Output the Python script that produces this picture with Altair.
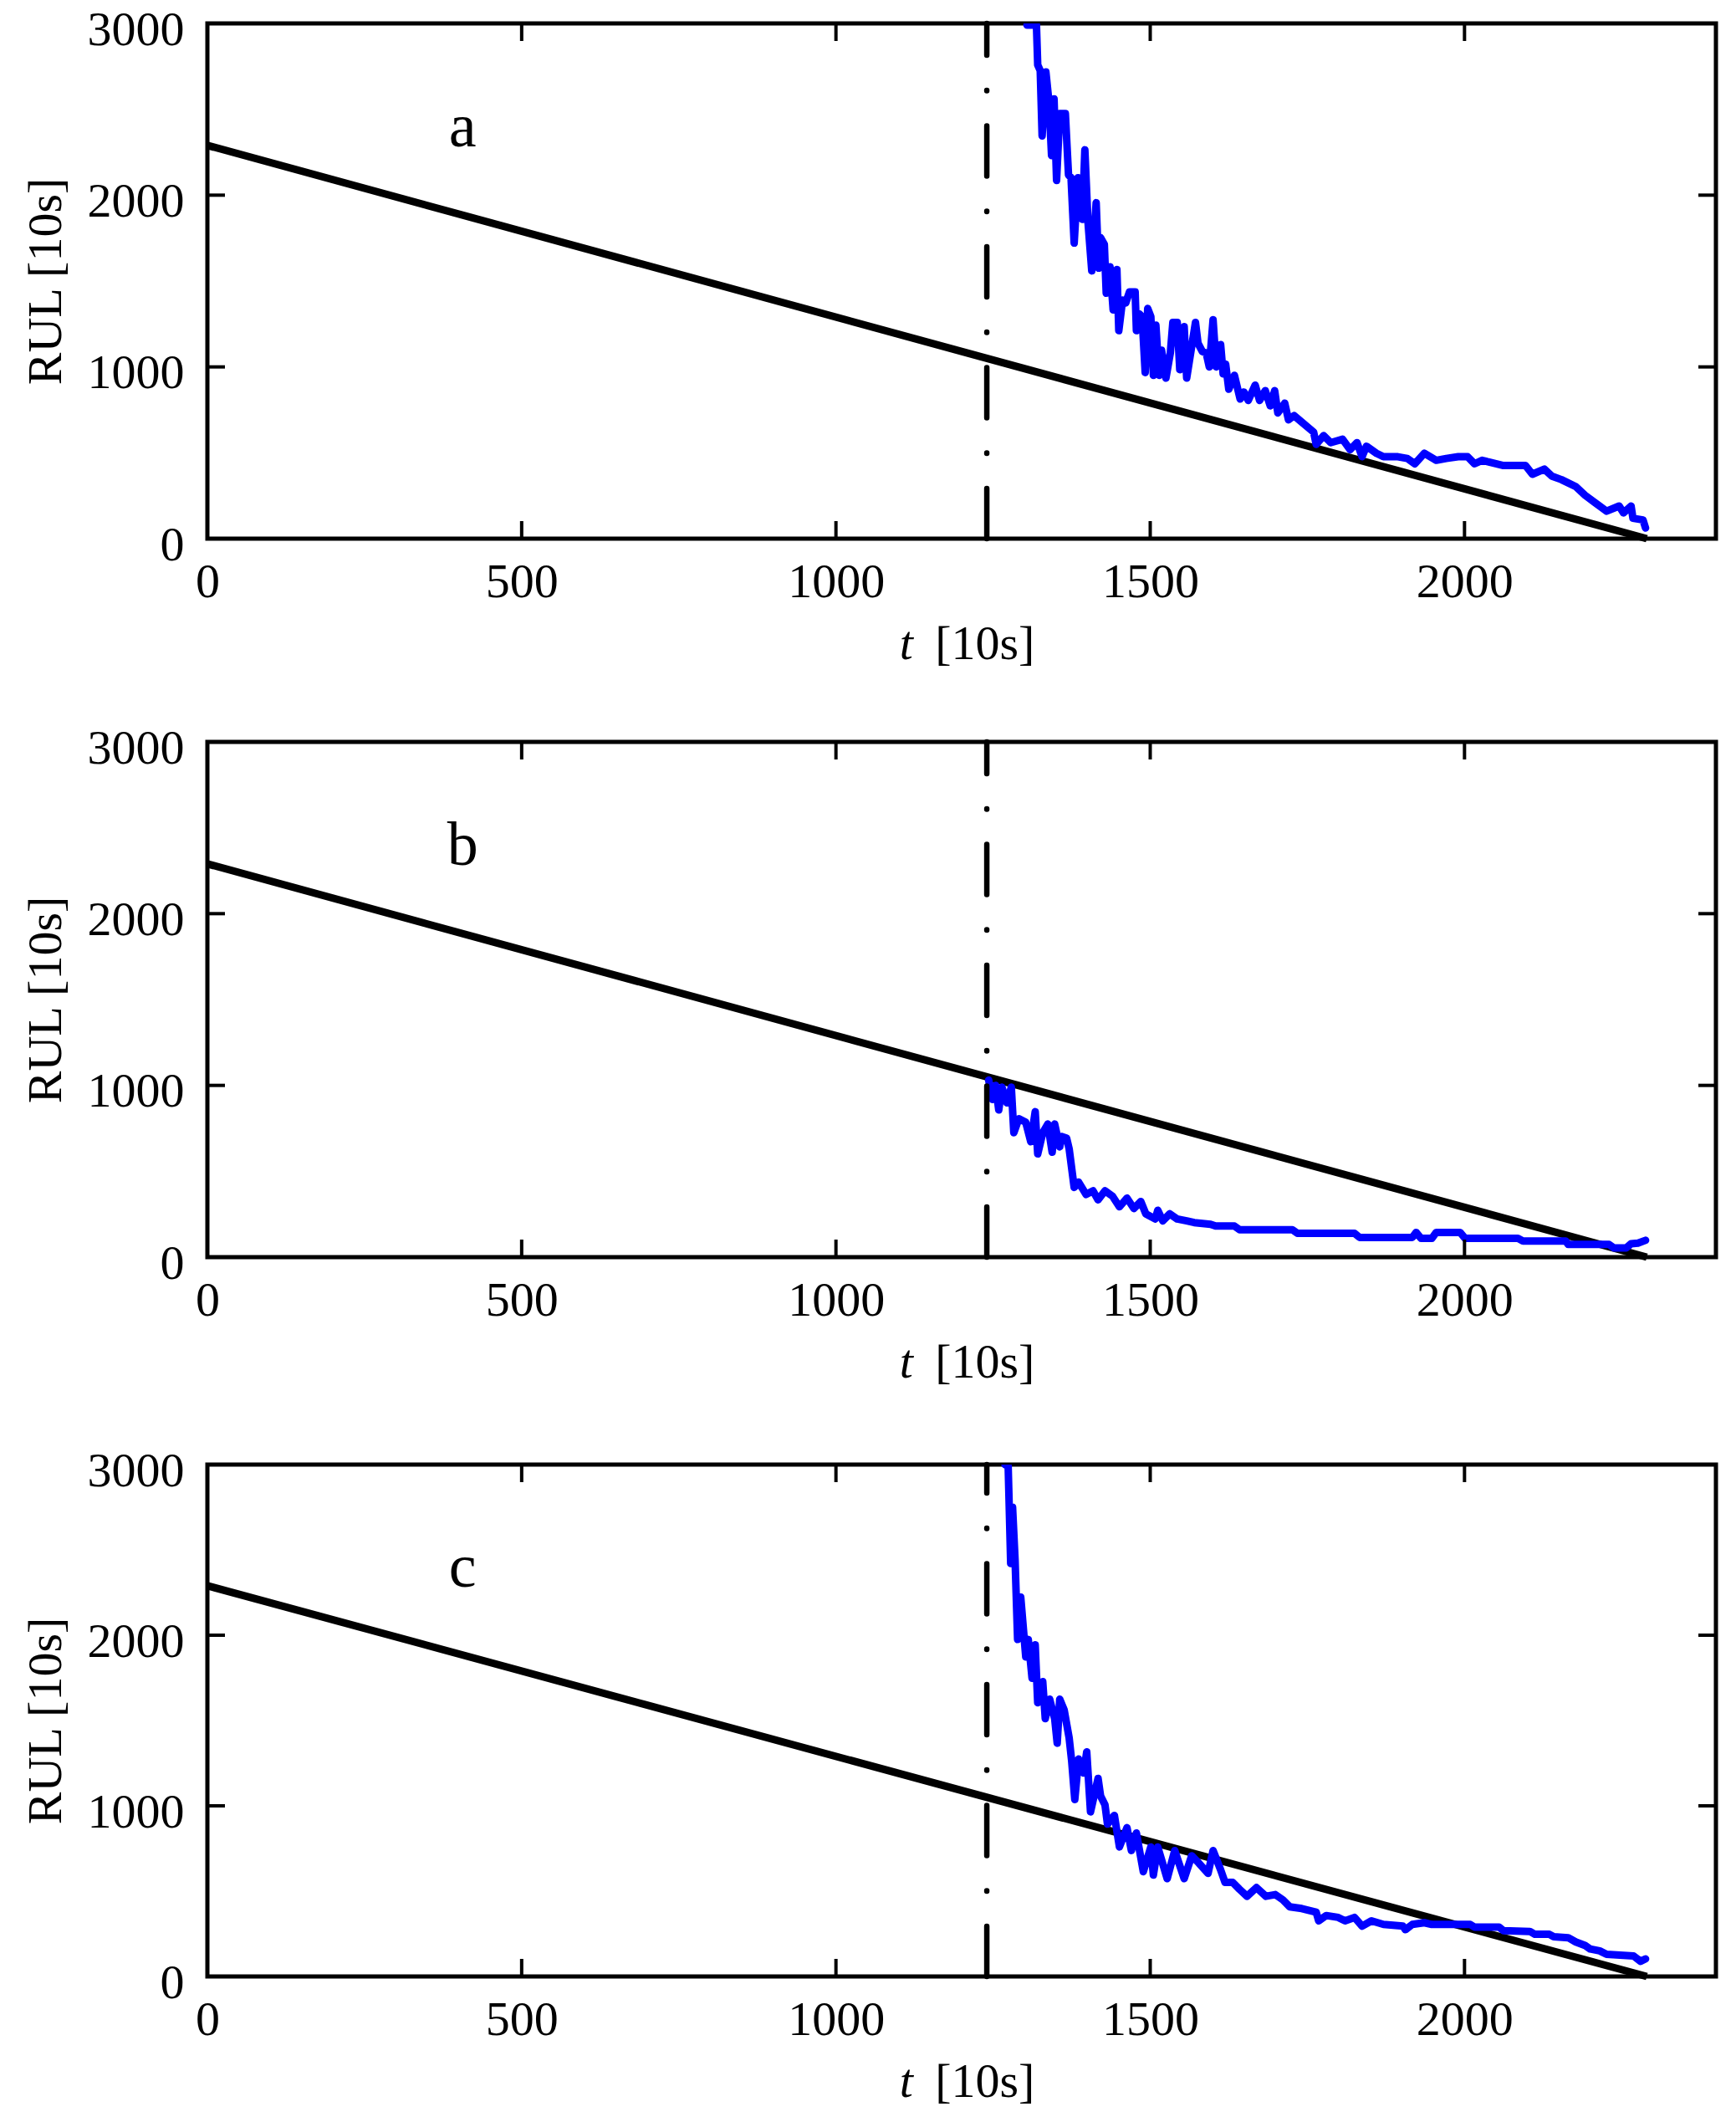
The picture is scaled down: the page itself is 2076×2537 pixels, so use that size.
import altair as alt
import pandas as pd

FONT = "Liberation Serif"
W = 1804
panel_heights = [616, 616, 612]

# axis ticks
x_ticks = [0, 500, 1000, 1500, 2000]
y_ticks = [0, 1000, 2000, 3000]

# true RUL (black line)
true_t = [0, 2290]
true_rul = [2290, 0]

# prediction start (dash-dot line)
start_t = [1240]

# panel labels
labels = ["a", "b", "c"]
label_t = [406]
label_rul = [2283]

# ---- panel a: predicted RUL (blue) ----
a_t = [1304, 1319, 1321, 1325, 1328, 1334, 1339, 1343, 1347, 1351,
       1356, 1365, 1370, 1374, 1379, 1385, 1392, 1396, 1401, 1407,
       1414, 1418, 1421, 1427, 1430, 1436, 1441, 1447, 1450, 1456,
       1461, 1467, 1476, 1478, 1483, 1487, 1492, 1496, 1501, 1505,
       1509, 1514, 1518, 1525, 1532, 1536, 1543, 1547, 1554, 1558,
       1565, 1572, 1576, 1583, 1589, 1594, 1600, 1605, 1612, 1616,
       1620, 1625, 1634, 1643, 1649, 1656, 1667, 1674, 1683, 1691,
       1698, 1703, 1714, 1720, 1729, 1742, 1760, 1764, 1776, 1787,
       1806, 1818, 1829, 1837, 1844, 1860, 1871, 1894, 1909, 1921,
       1936, 1955, 1971, 1990, 2005, 2016, 2028, 2039, 2062, 2097,
       2108, 2127, 2139, 2154, 2177, 2192, 2207, 2226, 2246, 2253,
       2265, 2268, 2284, 2288]
a_rul = [2990, 2990, 2758, 2726, 2345, 2718, 2539, 2231, 2560, 2086,
         2475, 2475, 2118, 2102, 1721, 2102, 1859, 2264, 1843, 1559,
         1956, 1575, 1753, 1713, 1429, 1583, 1332, 1567, 1211, 1389,
         1372, 1437, 1437, 1211, 1308, 1292, 967, 1340, 1292, 951,
         1243, 951, 1097, 935, 1081, 1259, 1259, 984, 1235, 935,
         1097, 1259, 1138, 1089, 1081, 1000, 1275, 1000, 1130, 959,
         1016, 870, 951, 813, 854, 805, 894, 805, 862, 773,
         862, 732, 789, 692, 716, 676, 620, 549, 600, 559,
         579, 518, 559, 477, 538, 497, 477, 477, 467, 436,
         497, 456, 467, 477, 477, 436, 456, 446, 426, 426,
         375, 405, 364, 344, 303, 252, 211, 160, 190, 150,
         190, 119, 109, 62]

# ---- panel b ----
b_t = [1243, 1249, 1254, 1259, 1264, 1272, 1279, 1283, 1291, 1302,
       1310, 1317, 1321, 1329, 1337, 1344, 1348, 1356, 1359, 1367,
       1371, 1379, 1386, 1398, 1409, 1417, 1428, 1440, 1451, 1463,
       1474, 1485, 1493, 1508, 1512, 1520, 1531, 1543, 1558, 1570,
       1596, 1604, 1634, 1642, 1726, 1734, 1825, 1833, 1917, 1923,
       1931, 1948, 1955, 1993, 2001, 2085, 2093, 2161, 2165, 2230,
       2238, 2257, 2265, 2276, 2288]
b_rul = [1031, 918, 1000, 857, 990, 898, 990, 724, 806, 785,
         672, 847, 601, 724, 775, 611, 775, 642, 703, 693,
         631, 406, 437, 365, 386, 334, 386, 355, 293, 344,
         283, 324, 252, 222, 273, 211, 252, 222, 211, 201,
         191, 181, 181, 160, 160, 139, 139, 115, 115, 144,
         109, 109, 144, 144, 109, 109, 94, 94, 74, 74,
         53, 53, 78, 82, 98]

# ---- panel c ----
c_t = [1269, 1274, 1278, 1281, 1285, 1289, 1294, 1302, 1306, 1312,
       1317, 1321, 1329, 1333, 1340, 1348, 1352, 1356, 1363, 1371,
       1375, 1380, 1386, 1394, 1399, 1405, 1417, 1421, 1428, 1432,
       1443, 1451, 1463, 1470, 1478, 1489, 1501, 1505, 1512, 1527,
       1539, 1554, 1566, 1577, 1592, 1600, 1612, 1619, 1631, 1642,
       1654, 1669, 1684, 1699, 1711, 1722, 1741, 1764, 1768, 1780,
       1799, 1810, 1825, 1837, 1852, 1871, 1902, 1906, 1917, 1936,
       1948, 2009, 2016, 2055, 2062, 2104, 2112, 2135, 2142, 2165,
       2177, 2192, 2200, 2215, 2226, 2269, 2280, 2288]
c_rul = [3000, 2990, 2420, 2750, 2440, 1975, 2223, 1872, 1975, 1748,
         1944, 1604, 1728, 1511, 1625, 1511, 1367, 1625, 1563, 1398,
         1264, 1037, 1274, 1192, 1316, 965, 1161, 1058, 1006, 893,
         944, 759, 872, 738, 841, 614, 759, 594, 759, 573,
         738, 573, 707, 666, 604, 738, 625, 552, 552, 511,
         470, 521, 470, 480, 449, 408, 398, 377, 326, 357,
         346, 326, 346, 295, 326, 305, 295, 274, 305, 315,
         305, 305, 289, 289, 268, 264, 247, 247, 233, 227,
         202, 181, 161, 150, 130, 120, 89, 103]


def panel(name, t, r, H):
    xs = alt.Scale(domain=[0, 2400], nice=False, zero=False)
    ys = alt.Scale(domain=[0, 3000], nice=False, zero=False)
    xax = alt.Axis(values=x_ticks, tickSize=0, domain=False, grid=False,
                   labelFont=FONT, labelFontSize=58, labelColor="black",
                   labelPadding=23, labelFlush=False, labelOverlap=False,
                   format="d", title=None)
    yax = alt.Axis(values=y_ticks, tickSize=0, domain=False, grid=False,
                   labelFont=FONT, labelFontSize=58, labelColor="black",
                   labelPadding=28, labelFlush=False, labelOverlap=False,
                   labelOffset=8, format="d",
                   title="RUL [10s]", titleFont=FONT, titleFontSize=58,
                   titleFontWeight="normal", titleColor="black", titlePadding=20)

    true_df = pd.DataFrame({"t": true_t, "rul": true_rul})
    blue_df = pd.DataFrame({"t": t, "rul": r, "i": list(range(len(t)))})
    xt_df = pd.DataFrame({"t": x_ticks})
    yt_df = pd.DataFrame({"rul": y_ticks})

    true_line = alt.Chart(true_df).mark_line(color="black", strokeWidth=9).encode(
        x=alt.X("t:Q", scale=xs, axis=xax),
        y=alt.Y("rul:Q", scale=ys, axis=yax),
    )
    blue = alt.Chart(blue_df).mark_line(
        color="#0000ff", strokeWidth=9, strokeCap="round", strokeJoin="round", clip=True
    ).encode(x="t:Q", y="rul:Q", order="i:Q")
    vline = alt.Chart(pd.DataFrame({"t": start_t})).mark_rule(
        color="black", strokeWidth=6.5, strokeDash=[60, 42, 0.5, 42], strokeCap="round"
    ).encode(x="t:Q", y=alt.datum(0), y2=alt.datum(3000))

    tick_style = dict(color="black", strokeWidth=4)
    bt = alt.Chart(xt_df).mark_rule(**tick_style).encode(
        x="t:Q", y=alt.value(H), y2=alt.value(H - 21))
    tt = alt.Chart(xt_df).mark_rule(**tick_style).encode(
        x="t:Q", y=alt.value(0), y2=alt.value(21))
    lt = alt.Chart(yt_df).mark_rule(**tick_style).encode(
        y="rul:Q", x=alt.value(0), x2=alt.value(21))
    rt = alt.Chart(yt_df).mark_rule(**tick_style).encode(
        y="rul:Q", x=alt.value(W), x2=alt.value(W - 21))

    lab = alt.Chart(pd.DataFrame({"t": label_t, "rul": label_rul, "s": [name]})).mark_text(
        font=FONT, fontSize=74, color="black", align="center", baseline="alphabetic"
    ).encode(x="t:Q", y="rul:Q", text="s:N")

    xt1 = alt.Chart(pd.DataFrame({"t": [1112], "s": ["t"]})).mark_text(
        font=FONT, fontSize=58, fontStyle="italic", color="black",
        align="center", baseline="alphabetic"
    ).encode(x="t:Q", y=alt.value(H + 144), text="s:N")
    xt2 = alt.Chart(pd.DataFrame({"t": [1237], "s": ["[10s]"]})).mark_text(
        font=FONT, fontSize=58, color="black", align="center", baseline="alphabetic"
    ).encode(x="t:Q", y=alt.value(H + 144), text="s:N")

    return alt.layer(true_line, blue, vline, bt, tt, lt, rt, lab, xt1, xt2).properties(
        width=W, height=H)


pa = panel(labels[0], a_t, a_rul, panel_heights[0])
pb = panel(labels[1], b_t, b_rul, panel_heights[1])
pc = panel(labels[2], c_t, c_rul, panel_heights[2])

chart = alt.vconcat(
    pa,
    alt.vconcat(pb, pc, spacing=65),
    spacing=60,
).properties(
    padding={"left": 15, "top": -4, "right": 5, "bottom": 5},
    background="white",
).configure_view(stroke="black", strokeWidth=5)

chart.save("out.html", embed_options={"renderer": "svg", "actions": False})
